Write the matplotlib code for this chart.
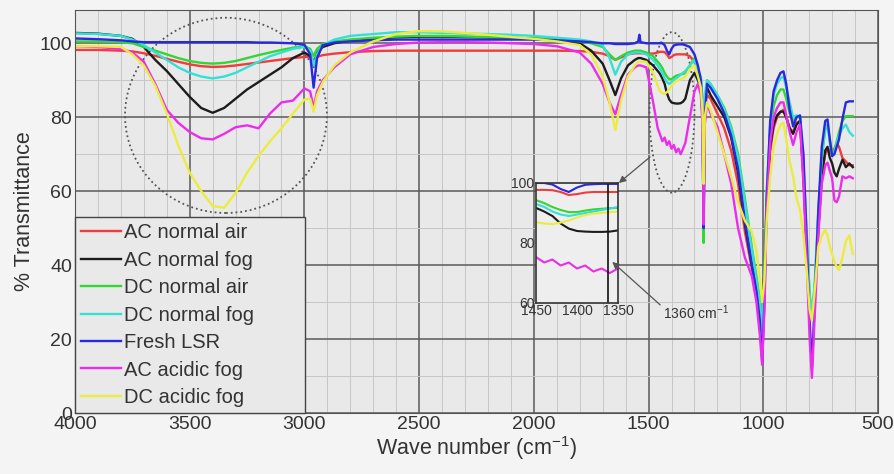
import matplotlib
matplotlib.use('Agg')
import matplotlib.pyplot as plt
from matplotlib.patches import Ellipse
from matplotlib.ticker import MultipleLocator

plt.rcParams['font.family'] = ['Liberation Sans', 'DejaVu Sans']
plt.rcParams['mathtext.fontset'] = 'custom'
plt.rcParams['mathtext.rm'] = 'Liberation Sans'
plt.rcParams['mathtext.default'] = 'regular'

# wave number grid (cm-1), shared by all spectra
wavenumber = [4000, 3900, 3800, 3750, 3700, 3650, 3600, 3550, 3500, 3450, 3400, 3350, 3300, 3250, 3200, 3150, 3100, 3050, 3000,
              2975, 2960, 2945, 2920, 2870, 2800, 2700, 2600, 2500, 2400, 2300, 2200, 2100, 2000, 1900, 1800, 1750, 1700,
              1670, 1645, 1620, 1590, 1560, 1545, 1540, 1535, 1510, 1480, 1460,
              1450, 1440, 1430, 1420, 1410, 1400, 1390, 1380, 1370, 1360, 1350, 1340,
              1320, 1300, 1285, 1272, 1265, 1260, 1255, 1245, 1230, 1200, 1170, 1140, 1110, 1080, 1050, 1030, 1015,
              1005, 995, 985, 970, 955, 940, 925, 912, 900, 885, 870, 855, 840, 825, 810, 798,
              788, 776, 760, 745, 730, 720, 710, 700, 690, 680, 670, 655, 640, 625, 610]

ac_air = [98.2, 98.2, 98.0, 97.8, 97.3, 96.6, 95.8, 95.0, 94.3, 93.8, 93.6, 93.7, 94.0, 94.4, 94.8, 95.2, 95.6, 96.0, 96.3,
          96.3, 95.5, 96.3, 96.8, 97.2, 97.6, 97.9, 98.0, 98.0, 98.0, 98.0, 98.0, 98.0, 98.0, 98.0, 97.9, 97.7, 97.2,
          96.5, 95.5, 96.2, 97.0, 97.3, 97.3, 97.3, 97.3, 97.3, 97.2, 97.5,
          97.7, 97.7, 97.6, 97.0, 96.0, 96.3, 96.8, 97.0, 97.0, 97.0, 97.0, 97.0,
          96.5, 95.0, 92.0, 89.0, 82.0, 67.0, 83.0, 86.0, 85.0, 81.0, 77.0, 71.0, 62.0, 49.0, 39.0, 34.0, 30.0,
          27.0, 36.0, 56.0, 71.0, 77.0, 80.0, 81.5, 82.0, 80.0, 77.0, 76.0, 78.5, 79.0, 64.0, 43.0, 29.0,
          26.0, 32.0, 50.0, 64.0, 70.0, 71.5, 71.0, 70.0, 71.5, 73.0, 72.0, 69.0, 68.0, 67.0, 67.0]

ac_fog = [102.8, 102.6, 102.0, 101.2, 99.0, 95.5, 92.5, 89.0, 85.5, 82.5, 81.2, 82.5, 85.0, 87.5, 89.5, 91.5, 93.5, 96.0, 97.5,
          96.5, 94.0, 97.5, 99.0, 100.0, 100.8, 101.3, 101.6, 101.8, 101.8, 101.7, 101.6, 101.5, 101.3, 101.0, 100.0, 98.0, 94.5,
          90.0, 86.0, 90.5, 94.0, 95.5, 96.0, 96.0, 96.0, 95.5, 94.0, 92.5,
          91.7, 90.5, 89.0, 86.5, 84.8, 84.0, 83.8, 83.7, 83.7, 83.8, 84.2, 85.0,
          90.0, 92.0, 90.0, 88.0, 84.0, 72.0, 85.0, 88.0, 86.0, 83.0, 80.0, 74.5, 65.0, 51.0, 40.0, 35.0, 31.0,
          28.0, 38.0, 58.0, 72.0, 78.0, 80.5, 81.5, 81.5, 80.0, 77.0, 75.5, 78.0, 79.0, 64.0, 44.0, 30.0,
          27.0, 33.0, 50.0, 64.0, 71.0, 72.0, 69.0, 67.5, 65.0, 64.0, 66.0, 68.5, 66.5, 67.5, 66.5]

dc_air = [100.5, 100.5, 100.3, 100.0, 99.0, 98.0, 97.0, 96.0, 95.2, 94.7, 94.5, 94.7, 95.2, 96.0, 96.8, 97.5, 98.2, 98.8, 99.2,
          98.5, 96.5, 98.5, 99.8, 100.5, 101.0, 101.5, 101.8, 102.0, 102.0, 101.8, 101.7, 101.5, 101.3, 101.0, 100.5, 100.0, 99.0,
          97.0, 95.5, 96.5, 97.5, 98.0, 98.0, 98.0, 98.0, 97.5, 96.5, 95.0,
          94.3, 93.3, 92.0, 91.0, 90.3, 90.3, 90.8, 91.2, 91.4, 91.6, 91.7, 92.0,
          94.0, 96.0, 93.0, 90.0, 80.0, 46.0, 82.0, 90.0, 89.0, 86.0, 82.5, 77.5, 70.0, 58.0, 45.0, 37.0, 31.0,
          27.0, 38.0, 60.0, 76.0, 83.0, 86.0, 87.5, 87.5, 85.0, 81.0, 79.0, 80.0, 80.0, 67.0, 47.0, 32.0,
          27.0, 34.0, 54.0, 69.0, 76.5, 78.0, 74.0, 70.0, 71.0, 73.5, 76.0, 79.0, 80.3, 80.3, 80.3]

dc_fog = [102.7, 102.5, 102.0, 101.0, 99.5, 97.5, 95.5, 93.5, 92.0, 91.0, 90.5, 91.0, 92.0, 93.5, 95.0, 96.5, 97.5, 98.5, 99.0,
          98.0, 94.0, 97.0, 99.5, 101.0, 102.0, 102.5, 103.0, 103.0, 102.8, 102.6, 102.5, 102.3, 102.0, 101.5, 101.0, 100.5, 99.5,
          96.0, 91.5, 95.0, 97.0, 97.5, 97.5, 97.5, 97.5, 97.0, 95.5, 94.0,
          93.0, 92.0, 90.5, 89.5, 89.0, 89.5, 90.0, 90.5, 91.0, 91.5, 92.0, 92.5,
          94.0, 95.5, 93.0, 91.0, 85.0, 74.0, 86.0, 90.0, 89.0, 86.0, 82.0, 77.0, 69.0, 57.0, 44.0, 36.0, 30.0,
          22.0, 35.0, 60.0, 78.0, 86.0, 89.0, 90.5, 91.0, 88.0, 84.0, 80.0, 80.5, 80.0, 68.0, 48.0, 32.0,
          26.0, 35.0, 55.0, 70.0, 77.0, 78.0, 73.0, 69.5, 70.5, 73.0, 75.0, 77.0, 78.0, 76.0, 75.0]

fresh = [101.3, 101.1, 100.8, 100.5, 100.3, 100.3, 100.3, 100.3, 100.3, 100.3, 100.3, 100.3, 100.3, 100.3, 100.2, 100.2, 100.1, 100.0, 99.6,
         97.0, 88.0, 96.0, 99.5, 100.2, 100.5, 100.8, 101.0, 101.0, 101.0, 101.0, 101.0, 101.0, 101.0, 100.8, 100.5, 100.3, 100.0,
         100.0, 99.8, 99.8, 99.8, 100.0, 100.5, 102.3, 100.3, 100.0, 100.0, 100.0,
         100.0, 100.0, 99.5, 98.0, 97.0, 98.5, 99.4, 99.6, 99.7, 99.7, 99.7, 99.5,
         99.0, 97.0, 94.0, 90.0, 80.0, 50.0, 80.0, 89.0, 88.0, 85.0, 81.0, 75.0, 66.0, 52.0, 40.0, 33.0, 25.0,
         14.0, 30.0, 58.0, 79.0, 87.0, 90.0, 92.0, 92.4, 89.0, 82.0, 77.5, 80.0, 80.5, 70.0, 45.0, 25.0,
         12.0, 30.0, 55.0, 72.0, 79.0, 79.4, 74.0, 69.5, 70.0, 72.0, 74.0, 79.5, 84.0, 84.3, 84.3]

ac_acid = [99.2, 99.0, 98.5, 97.5, 95.0, 89.0, 82.0, 78.5, 76.0, 74.3, 74.0, 75.5, 77.3, 77.8, 77.0, 81.0, 84.0, 84.5, 87.8,
           87.0, 82.5, 87.0, 90.0, 93.5, 97.0, 99.0, 99.8, 100.2, 100.3, 100.3, 100.2, 100.0, 99.8, 99.2, 97.5, 94.5, 89.0,
           84.0, 80.8, 86.0, 91.5, 93.5, 94.0, 94.0, 94.0, 93.5, 84.0, 77.0,
           75.3, 73.5, 74.5, 72.5, 73.5, 71.5, 72.5, 70.5, 71.5, 70.0, 71.5, 73.0,
           80.0, 87.0, 89.0, 86.0, 78.0, 51.0, 78.0, 84.0, 81.0, 77.5, 70.0, 62.0, 50.0, 42.0, 37.0, 30.0, 21.0,
           13.0, 28.0, 55.0, 73.0, 80.0, 82.5, 84.0, 84.0, 80.5, 76.0, 72.5, 76.0, 78.0, 62.0, 40.0, 20.0,
           9.5, 26.0, 48.0, 62.0, 67.0, 67.7, 65.5, 63.5, 57.5, 57.0, 58.5, 64.0, 63.5, 64.0, 63.5]

dc_acid = [99.2, 99.2, 99.0, 97.0, 94.0, 88.5, 81.0, 72.4, 65.0, 60.0, 56.0, 55.5, 59.5, 65.0, 69.5, 73.5, 77.0, 81.0, 84.8,
           85.0, 81.5, 86.0, 89.5, 94.0, 97.5, 100.5, 102.5, 103.3, 103.2, 102.8, 102.3, 101.7, 101.2, 100.5, 99.5, 97.0, 91.0,
           84.0, 76.5, 84.5, 91.0, 94.0, 95.0, 95.0, 95.0, 95.0, 92.0, 88.5,
           87.0, 86.5, 86.3, 86.8, 87.5, 88.5, 89.3, 89.8, 90.0, 90.3, 90.5, 91.0,
           93.0, 94.0, 91.0, 88.0, 82.0, 62.0, 80.0, 84.0, 82.0, 76.0, 70.0, 64.0, 57.0, 52.0, 49.0, 44.0, 36.0,
           30.0, 36.0, 52.0, 64.0, 72.0, 75.5, 78.0, 78.5, 74.0, 68.0, 64.0, 58.0, 55.0, 48.0, 38.0, 28.0,
           25.0, 33.0, 45.0, 48.0, 49.6, 48.0, 45.0, 43.0, 41.0, 39.5, 38.7, 42.0, 46.5, 48.0, 43.0]

series = [ac_air, ac_fog, dc_air, dc_fog, fresh, ac_acid, dc_acid]
labels = ['AC normal air', 'AC normal fog', 'DC normal air', 'DC normal fog',
          'Fresh LSR', 'AC acidic fog', 'DC acidic fog']
colors = ['#f03c3c', '#1c1c1c', '#33d633', '#33e0d8', '#2828e0', '#ec2cec', '#ecec40']

fig = plt.figure(figsize=(8.95, 4.74), dpi=100, facecolor='#f4f4f4')
ax = fig.add_axes([75/895, 61/474, 803/895, 403/474], facecolor='#e9e9e9')

for y, lab, c in zip(series, labels, colors):
    ax.plot(wavenumber, y, color=c, lw=1.7, label=lab)

ax.set_xlim(4000, 500)
ax.set_ylim(0, 109)
ax.xaxis.set_major_locator(MultipleLocator(500))
ax.xaxis.set_minor_locator(MultipleLocator(100))
ax.yaxis.set_major_locator(MultipleLocator(20))
ax.yaxis.set_minor_locator(MultipleLocator(10))
ax.grid(True, which='major', color='#5a5a5a', lw=1.1)
ax.grid(True, which='minor', color='#c6c6c6', lw=0.7)
ax.set_axisbelow(True)
ax.tick_params(which='both', length=0, labelsize=14, colors='#333333', pad=2)
for s in ax.spines.values():
    s.set_color('#555555')

ax.set_xlabel('Wave number (cm$^{-1}$)', fontsize=15.5, color='#333333', labelpad=1)
ax.set_ylabel('% Transmittance', fontsize=15.5, color='#333333', labelpad=3)

# dotted rings around the O-H band and the 1360 band
ax.add_patch(Ellipse((3342, 80.5), 880, 52.8, fill=False, ls=':', lw=1.3, color='#555555'))
ax.add_patch(Ellipse((1398, 81.3), 196, 43.4, fill=False, ls=':', lw=1.3, color='#555555'))

leg = ax.legend(loc='lower left', bbox_to_anchor=(0, 0, 230/803, 0.5), mode='expand',
                borderaxespad=0, fontsize=14.5, handlelength=2.0, handletextpad=0.15,
                labelspacing=0.42, borderpad=0.3, fancybox=False, framealpha=1,
                facecolor='#e9e9e9', edgecolor='#444444')
for t in leg.get_texts():
    t.set_color('#333333')

# inset: zoom of the 1450-1350 region
axi = fig.add_axes([536/895, 1 - 303/474, 82/895, 120/474], facecolor='#eeeeee')
for y, c in zip(series, colors):
    axi.plot(wavenumber, y, color=c, lw=1.5)
axi.set_xlim(1450, 1350)
axi.set_ylim(60, 100)
axi.set_xticks([1450, 1400, 1350])
axi.set_yticks([60, 80, 100])
axi.tick_params(length=0, labelsize=10, colors='#333333', pad=1)
axi.axvline(1362, color='#111111', lw=1.2)
for s in axi.spines.values():
    s.set_color('#333333')
    s.set_linewidth(1.2)

axi.annotate('1360 cm$^{-1}$', xy=(1357, 73.7), xytext=(663/895, 1 - 313/474),
             textcoords='figure fraction', fontsize=10, color='#333333', ha='left', va='center',
             annotation_clip=False,
             arrowprops=dict(arrowstyle='-|>', color='#555555', lw=0.9, relpos=(0, 0.8),
                             shrinkA=0, shrinkB=0, mutation_scale=10))
axi.annotate('', xy=(1349, 100), xytext=(650/895, 1 - 157/474),
             textcoords='figure fraction', annotation_clip=False,
             arrowprops=dict(arrowstyle='-|>', color='#555555', lw=0.9,
                             shrinkA=0, shrinkB=0, mutation_scale=10))

fig.savefig('out.png', dpi=100, facecolor=fig.get_facecolor())
